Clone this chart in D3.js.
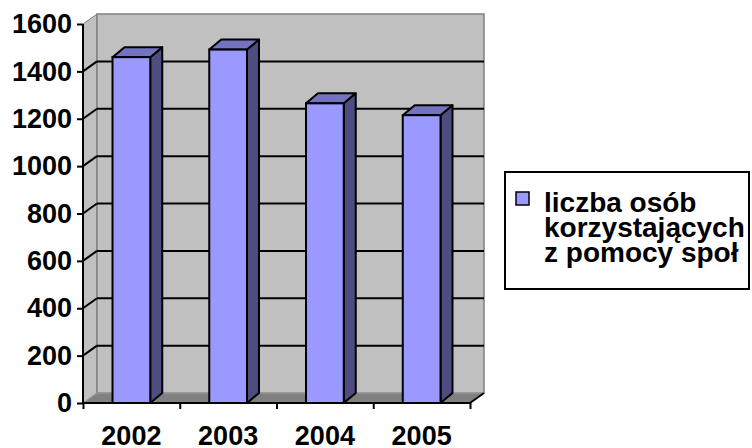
<!DOCTYPE html>
<html>
<head>
<meta charset="utf-8">
<script src="https://cdn.jsdelivr.net/npm/d3@7"></script>
<style>
  body { margin: 0; background: #fff; }
  svg text { font-family: "Liberation Sans", Arial, sans-serif; font-weight: bold; fill: #000; }
</style>
</head>
<body>
<div id="chart"></div>
<script>
var years = ['2002', '2003', '2004', '2005'];
var values = [1460, 1492, 1265, 1215];
var yTicks = [0, 200, 400, 600, 800, 1000, 1200, 1400, 1600];
var legendLines = ['liczba osób', 'korzystających', 'z pomocy społ'];

var width = 752, height = 448;
var depthX = 14, depthY = -10;   // wall depth
var barDX = 12, barDY = -10;     // bar depth

var svg = d3.select('#chart').append('svg')
            .attr('width', width)
            .attr('height', height);

var x = d3.scaleBand().domain(years).range([83, 470]);
var xEdge = d3.scaleLinear().domain([0, years.length]).range([83, 470]); // tick marks between bars
var y = d3.scaleLinear().domain([0, 1600]).range([403, 24]);

var x0 = x.range()[0], x1 = x.range()[1];
var yTop = y(1600), yBot = y(0);

// left side wall
svg.append('polygon')
   .attr('points', [[x0, yTop], [x0 + depthX, yTop + depthY], [x0 + depthX, yBot + depthY], [x0, yBot]].join(' '))
   .attr('fill', '#c0c0c0').attr('stroke', '#808080').attr('stroke-width', 1);

// back wall
svg.append('rect')
   .attr('x', x0 + depthX).attr('y', yTop + depthY)
   .attr('width', x1 - x0).attr('height', yBot - yTop)
   .attr('fill', '#c0c0c0').attr('stroke', '#808080').attr('stroke-width', 1.5);

// floor
svg.append('polygon')
   .attr('points', [[x0, yBot], [x1, yBot], [x1 + depthX, yBot + depthY], [x0 + depthX, yBot + depthY]].join(' '))
   .attr('fill', '#808080').attr('stroke', '#a0a0a0').attr('stroke-width', 1);

// gridlines (back wall + side wall)
var grid = yTicks.filter(function(d){ return d > 0 && d < 1600; });
svg.selectAll('.gridBack').data(grid).enter().append('line')
   .attr('x1', x0 + depthX).attr('x2', x1 + depthX)
   .attr('y1', function(d){ return y(d) + depthY; })
   .attr('y2', function(d){ return y(d) + depthY; })
   .attr('stroke', '#000').attr('stroke-width', 2);
svg.selectAll('.gridSide').data(grid).enter().append('line')
   .attr('x1', x0).attr('x2', x0 + depthX)
   .attr('y1', function(d){ return y(d); })
   .attr('y2', function(d){ return y(d) + depthY; })
   .attr('stroke', '#000').attr('stroke-width', 2);

// bars
var barW = x.bandwidth() * 0.39;
var bars = svg.selectAll('.bar').data(values).enter().append('g').attr('class', 'bar');
function left(d, i) { return x(years[i]) + x.bandwidth() / 2 - barW / 2; }

bars.append('polygon') // side
    .attr('points', function(d, i){
      var l = left(d, i) + barW;
      return [[l, y(d)], [l + barDX, y(d) + barDY], [l + barDX, yBot + barDY], [l, yBot]].join(' ');
    })
    .attr('fill', '#4d4d80').attr('stroke', '#000').attr('stroke-width', 2).attr('stroke-linejoin', 'round');
bars.append('polygon') // top
    .attr('points', function(d, i){
      var l = left(d, i);
      return [[l, y(d)], [l + barDX, y(d) + barDY], [l + barW + barDX, y(d) + barDY], [l + barW, y(d)]].join(' ');
    })
    .attr('fill', '#7373c0').attr('stroke', '#000').attr('stroke-width', 2).attr('stroke-linejoin', 'round');
bars.append('rect') // front
    .attr('x', function(d, i){ return left(d, i); })
    .attr('y', function(d){ return y(d); })
    .attr('width', barW)
    .attr('height', function(d){ return yBot - y(d); })
    .attr('fill', '#9999ff').attr('stroke', '#000').attr('stroke-width', 2);

// y axis
var yAxis = d3.axisLeft(y).tickValues(yTicks).tickSize(6).tickPadding(5).tickFormat(d3.format('d'));
var gy = svg.append('g').attr('transform', 'translate(' + x0 + ',0)').call(yAxis);
gy.select('.domain').attr('stroke-width', 2).attr('d', 'M0,' + yTop + 'V' + yBot);
gy.selectAll('.tick line').attr('stroke-width', 2);
gy.selectAll('text').style('font-size', '27px');

// x axis: tick marks between categories
var xTickAxis = d3.axisBottom(xEdge).tickValues(d3.range(years.length + 1)).tickSize(6).tickFormat('');
var gx = svg.append('g').attr('transform', 'translate(0,' + yBot + ')').call(xTickAxis);
gx.select('.domain').attr('stroke-width', 2).attr('d', 'M' + x0 + ',0H' + x1);
gx.selectAll('.tick line').attr('stroke-width', 2);

// x axis labels
var xLabelAxis = d3.axisBottom(x).tickSize(0).tickPadding(23);
var gxl = svg.append('g').attr('transform', 'translate(0,' + yBot + ')').call(xLabelAxis);
gxl.select('.domain').remove();
gxl.selectAll('text').style('font-size', '27px');

// floor right edge
svg.append('line')
   .attr('x1', x1).attr('y1', yBot).attr('x2', x1 + depthX).attr('y2', yBot + depthY)
   .attr('stroke', '#000').attr('stroke-width', 2);

// legend
var legend = svg.append('g').attr('transform', 'translate(505,172)');
legend.append('rect').attr('x', 0).attr('y', 0).attr('width', 244).attr('height', 117)
      .attr('fill', '#fff').attr('stroke', '#000').attr('stroke-width', 2);
legend.append('rect').attr('x', 11).attr('y', 20).attr('width', 13).attr('height', 13)
      .attr('fill', '#9999ff').attr('stroke', '#000').attr('stroke-width', 1.5);
legend.selectAll('.lt').data(legendLines).enter().append('text')
      .attr('x', 39)
      .attr('y', function(d, i){ return 40 + i * 25; })
      .style('font-size', '28px')
      .text(function(d){ return d; });
</script>
</body>
</html>
